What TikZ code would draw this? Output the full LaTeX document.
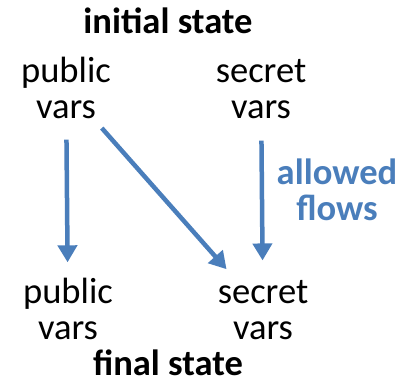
\documentclass[tikz,border=0pt]{standalone}
\usepackage{fontspec}
\setmainfont{Carlito}
\usepackage{tikz}
\usetikzlibrary{arrows.meta}
\definecolor{flowblue}{HTML}{4A7EBB}
\tikzset{
	vars/.style={inner sep=0, align=center, font=\fontsize{20.8}{20.5}\selectfont},
	state/.style={inner sep=0, font=\fontsize{20.8}{20.5}\selectfont\bfseries},
	flow/.style={flowblue, line width=0.09cm, -{Triangle[width=0.38cm, length=0.34cm]}}
}

\begin{document}
\begin{tikzpicture}
			%%%%% START %%%%%
			\useasboundingbox (0, 0) rectangle (8.06, 7.64);
			
			\node[state, anchor=base] (init) at (3.36, 6.98) {initial state};
			\node[vars] (pubI) at (1.32, 5.89) {public\\vars};
			\node[vars] (secI) at (5.22, 5.85) {secret\\vars};
			
			\node[vars] (pubF) at (1.36, 1.47) {public\\vars};
			\node[vars] (secF) at (5.26, 1.43) {secret\\vars};
			\node[state, anchor=base] (final) at (3.36, 0.14) {final state};
			
			\node[vars, font=\fontsize{20.8}{20.5}\selectfont\bfseries, text=flowblue] (allowed) at (6.74, 3.84) {allowed\\flows};
			
			\draw[flow, shorten <=0.42cm, shorten >=0.3cm] (pubI) -- (pubF);
			\draw[flow, shorten <=0.25cm, shorten >=0.3cm] (pubI) -- (secF);
			\draw[flow, shorten <=0.42cm, shorten >=0.4cm] (secI) -- (secF);
			%%%%% END %%%%%
\end{tikzpicture}
\end{document}
